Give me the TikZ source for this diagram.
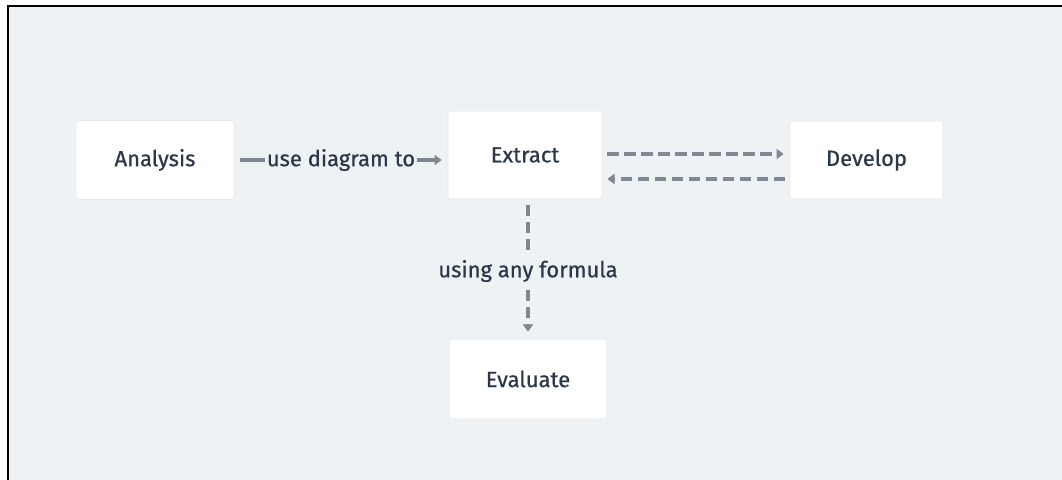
\documentclass[tikz,border=0pt]{standalone}
\usepackage{fontspec}
\setmainfont{Fira Sans}[FakeBold=0.6]
\usetikzlibrary{arrows.meta,calc,positioning}
\definecolor{bg}{RGB}{239,242,245}
\definecolor{txt}{RGB}{45,55,72}
\definecolor{lnc}{RGB}{128,136,148}
\definecolor{boxb}{RGB}{228,232,236}
\tikzset{
  stage/.style={draw=boxb,fill=white,rounded corners=1.5pt,line width=0.3pt,inner sep=0pt,font=\fontsize{11}{12}\selectfont,text=txt},
  flow/.style={-{Triangle[length=3.6pt,width=5pt]},lnc,line width=1.8pt},
  dflow/.style={flow,dash pattern=on 5.6pt off 2.9pt},
  elab/.style={fill=bg,inner xsep=1pt,inner ysep=2pt,font=\fontsize{11}{12}\selectfont,text=txt},
}

\begin{document}
\begin{tikzpicture}[x=0.5pt,y=-0.5pt]
% ---- canvas ----
\useasboundingbox (0,0) rectangle (1062,480);
\fill[bg] (8,6) rectangle (1062,480);
\draw[black,line width=1pt] (8,480) -- (8,6) -- (1062,6);

% ---- stages ----
\node[stage,minimum width=79pt,minimum height=39.5pt] (ana) at (155,160) {Analysis};
\node[stage,minimum width=77pt,minimum height=44pt] (ext) at (525,155) {Extract};
\node[stage,minimum width=76.5pt,minimum height=39pt] (dev) at (866.5,160) {Develop};
\node[stage,minimum width=79pt,minimum height=40pt] (eva) at (528,379) {Evaluate};

% ---- connectors ----
\draw[flow] ($(ana.east)+(6,0)$) -- ($(ext.west |- ana.east)+(-6,0)$)
  node[midway,elab] (lab1) {use diagram to};
\draw[dflow] ($(ext.east)+(5,-1)$) -- ($(dev.west |- ext.east)+(-6,-1)$);
\draw[dflow] ($(dev.west)+(-5,19)$) -- ($(ext.east)+(5,24)$);
\draw[dflow] ($(ext.south -| eva.north)+(0,6)$) -- ($(eva.north)+(0,-7)$)
  node[pos=0.52,elab,inner ysep=3pt] (lab2) {using any formula};
\end{tikzpicture}
\end{document}
